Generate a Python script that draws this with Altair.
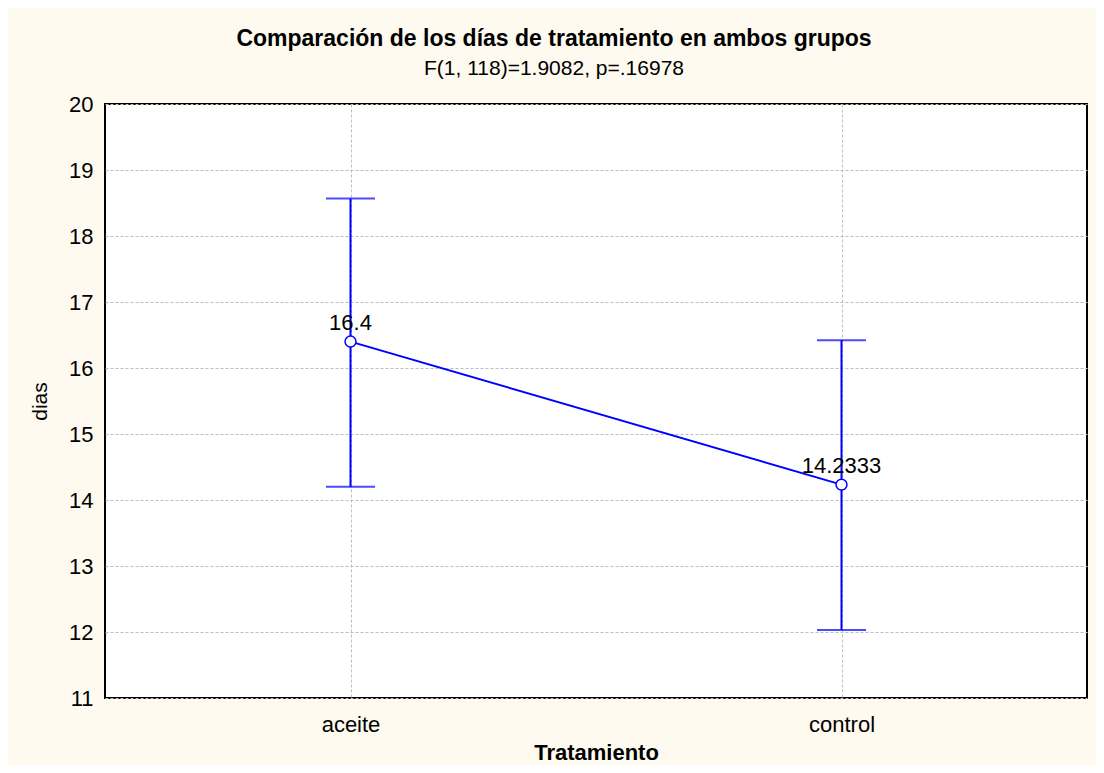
import altair as alt
import pandas as pd

groups = ["aceite", "control"]
means = [16.4, 14.2333]
lower = [14.20, 12.03]
upper = [18.57, 16.42]
labels = ["16.4", "14.2333"]

df = pd.DataFrame({"Tratamiento": groups, "dias": means, "lo": lower, "hi": upper, "label": labels})

FONT = "Liberation Sans"
BLUE = "#0000FF"

x = alt.X("Tratamiento:N", sort=groups,
          scale=alt.Scale(type="point", padding=0.5),
          axis=alt.Axis(title="Tratamiento", labelAngle=0, ticks=False, domain=False,
                        labelFontSize=22, labelFont=FONT, labelColor="black", labelPadding=16,
                        titleFontSize=22, titleFont=FONT, titleFontWeight="bold", titleColor="black",
                        titleBaseline="alphabetic", titleY=61,
                        grid=True, gridColor="#BDBDBD", gridDash=[3, 2], gridWidth=1))
yscale = alt.Scale(domain=[11, 20], nice=False, zero=False)
yaxis = alt.Axis(title="dias", values=list(range(11, 21)), format="d", ticks=False, domain=False,
                 labelFontSize=22, labelFont=FONT, labelColor="black", labelPadding=12,
                 titleFontSize=21, titleFont=FONT, titleFontWeight="normal", titleColor="black",
                 titleAngle=270, titleX=-65, titleY=297, titleBaseline="middle", titleAlign="center",
                 grid=True, gridColor="#BDBDBD", gridDash=[3, 2], gridWidth=1)

base = alt.Chart(df)

rule = base.mark_rule(color=BLUE, strokeWidth=2).encode(
    x=x, y=alt.Y("lo:Q", scale=yscale, axis=yaxis), y2="hi:Q")
cap_lo = base.mark_tick(color=BLUE, size=49, thickness=2, orient="horizontal").encode(x=x, y=alt.Y("lo:Q", scale=yscale))
cap_hi = base.mark_tick(color=BLUE, size=49, thickness=2, orient="horizontal").encode(x=x, y=alt.Y("hi:Q", scale=yscale))
line = base.mark_line(color=BLUE, strokeWidth=2).encode(x=x, y=alt.Y("dias:Q", scale=yscale))
pts = base.mark_point(shape="circle", filled=True, fill="white", stroke=BLUE, strokeWidth=1.5,
                      size=120, opacity=1).encode(x=x, y=alt.Y("dias:Q", scale=yscale))
txt = base.mark_text(font=FONT, fontSize=22, color="black", baseline="alphabetic", dy=-12).encode(
    x=x, y=alt.Y("dias:Q", scale=yscale), text="label:N")

chart = alt.layer(rule, cap_lo, cap_hi, line, pts, txt).properties(
    width=982, height=594,
    title=alt.TitleParams(
        text="Comparación de los días de tratamiento en ambos grupos",
        subtitle="F(1, 118)=1.9082, p=.16978",
        anchor="middle", dx=-42, offset=14, subtitlePadding=7,
        font=FONT, fontSize=23, fontWeight="bold", color="black",
        subtitleFont=FONT, subtitleFontSize=21, subtitleColor="black"),
    autosize=alt.AutoSizeParams(type="none"),
    padding={"left": 97, "top": 96, "right": 9, "bottom": 67},
    background="#FEFAF0",
).configure_view(stroke="black", strokeWidth=2, fill="white")

chart.save("out.html", embed_options={"renderer": "svg", "actions": False})
